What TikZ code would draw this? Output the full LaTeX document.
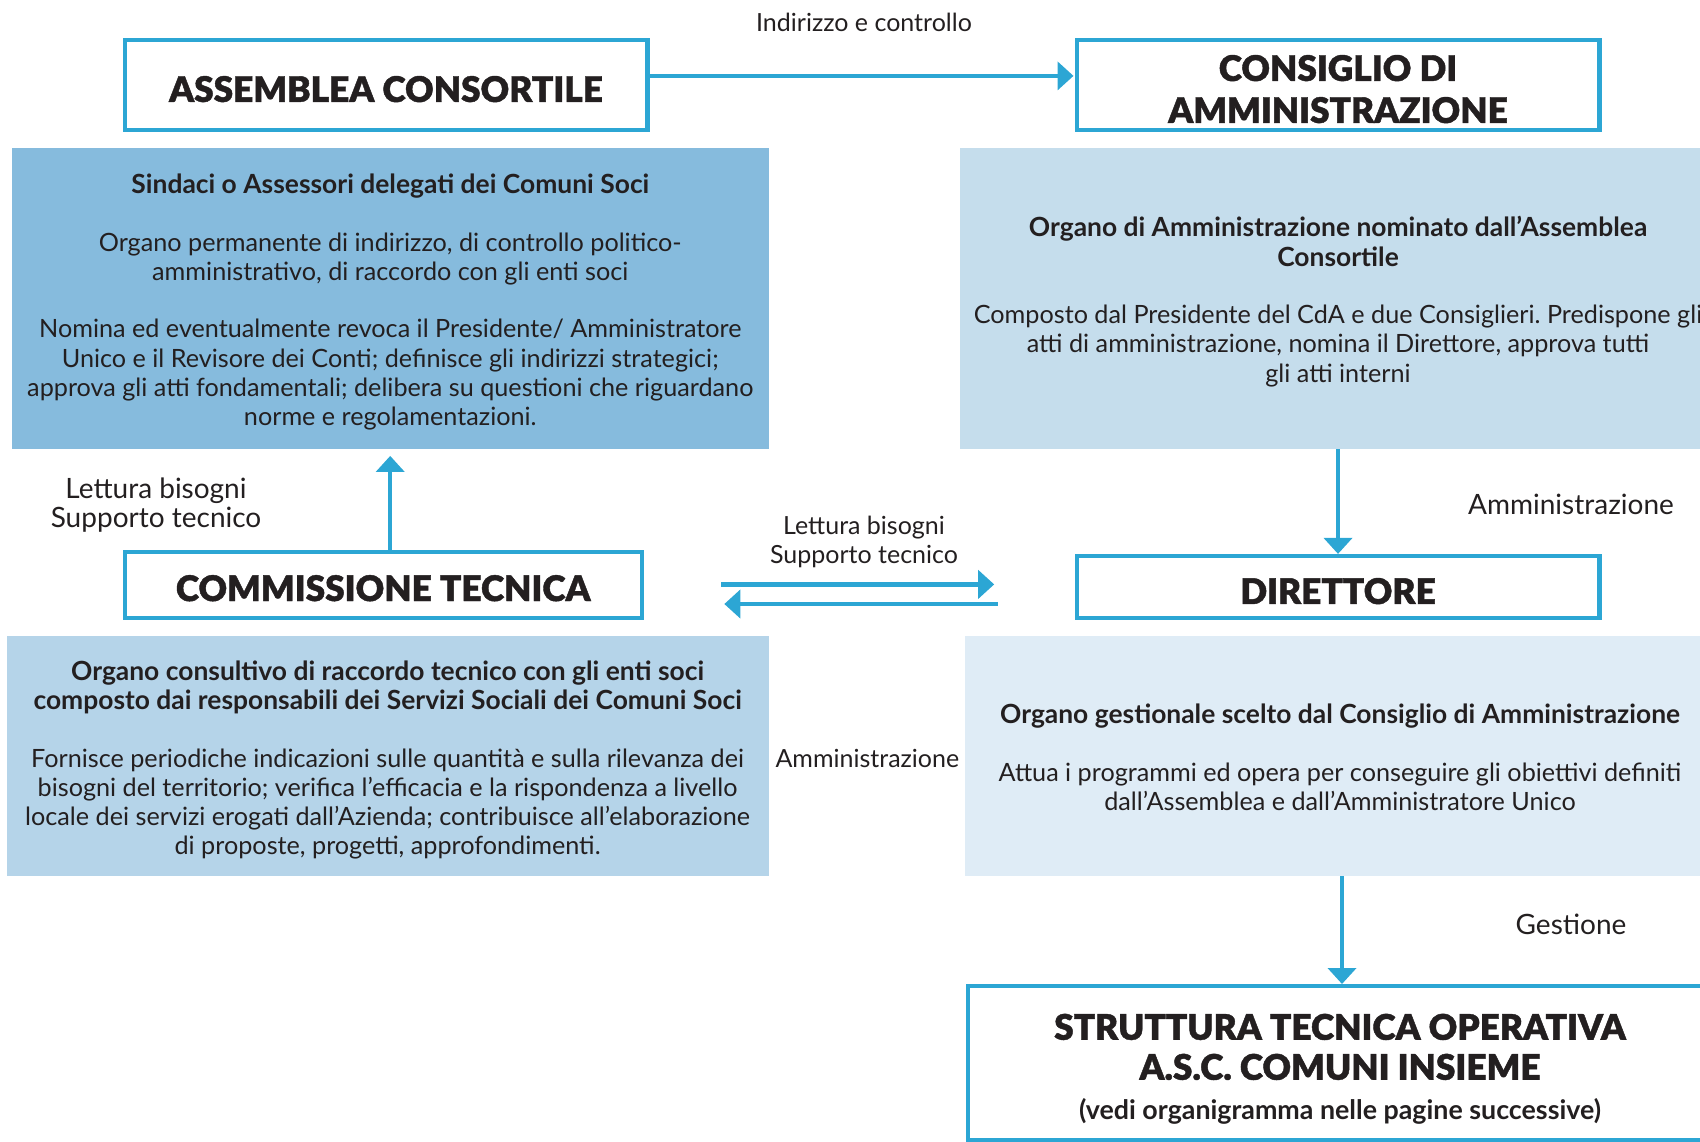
\documentclass[tikz,border=0pt]{standalone}
\usepackage{fontspec}
\setmainfont{Lato}
\newfontfamily\heavyfont{Lato Black}[FakeBold=1.2]
\usetikzlibrary{arrows.meta,calc}
\frenchspacing
\definecolor{cblue}{RGB}{44,166,212}
\definecolor{fillA}{RGB}{134,187,221}
\definecolor{fillB}{RGB}{197,221,236}
\definecolor{fillC}{RGB}{181,212,233}
\definecolor{fillD}{RGB}{223,236,246}
\definecolor{ink}{RGB}{35,31,32}
\newcommand{\hd}[1]{{\bfseries\fontsize{13.2}{14.65}\selectfont #1}}
\tikzset{
  titlebox/.style={draw=cblue, line width=2.2pt, fill=white, inner sep=0pt},
  titletext/.style={align=center, text=ink, inner sep=0pt,
    font=\heavyfont\fontsize{17.6}{21}\selectfont},
  descbox/.style={inner sep=0pt},
  desctext/.style={align=center, text=ink, inner sep=0pt,
    font=\fontsize{12.6}{14.65}\selectfont},
  arr/.style={draw=cblue, line width=2.2pt, -{Triangle[width=14pt,length=8pt]}},
  lblbig/.style={text=ink, align=center, inner sep=0pt, font=\fontsize{14}{14.65}\selectfont},
  lblsmall/.style={text=ink, align=center, inner sep=0pt, font=\fontsize{12.5}{14.65}\selectfont},
}
\begin{document}
\begin{tikzpicture}[x=1pt,y=-1pt]
\useasboundingbox (0,0) rectangle (850,570.5);
% description boxes
\node[descbox, fill=fillA, minimum width=378.4pt, minimum height=150.7pt] (sind) at (195.15,149.1) {};
\node[desctext] (sindT) at ([yshift=-2pt]sind.center)
 {\hd{Sindaci o Assessori delegati dei Comuni Soci}\\[14pt]
  Organo permanente di indirizzo, di controllo politico-\\
  amministrativo, di raccordo con gli enti soci\\[14pt]
  Nomina ed eventualmente revoca il Presidente/ Amministratore\\
  Unico e il Revisore dei Conti; definisce gli indirizzi strategici;\\
  approva gli atti fondamentali; delibera su questioni che riguardano\\
  norme e regolamentazioni.};
\node[descbox, fill=fillB, minimum width=378.4pt, minimum height=150.7pt] (cdesc) at (669,149.1) {};
\node[desctext] (cdescT) at ([yshift=-1.7pt]cdesc.center)
 {\hd{Organo di Amministrazione nominato dall’Assemblea}\\
  \hd{Consortile}\\[14pt]
  Composto dal Presidente del CdA e due Consiglieri. Predispone gli\\
  atti di amministrazione, nomina il Direttore, approva tutti\\
  gli atti interni};
\node[descbox, fill=fillC, minimum width=381.1pt, minimum height=119.8pt] (cmdesc) at (193.8,378.1) {};
\node[desctext] (cmdescT) at ([yshift=-2pt]cmdesc.center)
 {\hd{Organo consultivo di raccordo tecnico con gli enti soci}\\
  \hd{composto dai responsabili dei Servizi Sociali dei Comuni Soci}\\[14pt]
  Fornisce periodiche indicazioni sulle quantità e sulla rilevanza dei\\
  bisogni del territorio; verifica l’efficacia e la rispondenza a livello\\
  locale dei servizi erogati dall’Azienda; contribuisce all’elaborazione\\
  di proposte, progetti, approfondimenti.};
\node[descbox, fill=fillD, minimum width=375pt, minimum height=119.8pt] (ddesc) at (670,378.1) {};
\node[desctext] (ddescT) at ([yshift=-0.6pt]ddesc.center)
 {\hd{Organo gestionale scelto dal Consiglio di Amministrazione}\\[14pt]
  Attua i programmi ed opera per conseguire gli obiettivi definiti\\
  dall’Assemblea e dall’Amministratore Unico};
% title boxes
\node[titlebox, minimum width=261.3pt, minimum height=45pt] (ass) at (193,42.55) {};
\node[titletext] (assT) at ([yshift=-2pt]ass.center) {ASSEMBLEA CONSORTILE};
\node[titlebox, minimum width=261.3pt, minimum height=45pt] (cons) at (669,42.55) {};
\node[titletext] (consT) at ([yshift=-2pt]cons.center) {CONSIGLIO DI\\AMMINISTRAZIONE};
\node[titlebox, minimum width=258.5pt, minimum height=33pt] (comm) at (191.6,292.5) {};
\node[titletext] (commT) at ([yshift=-1.6pt]comm.center) {COMMISSIONE TECNICA};
\node[titlebox, minimum width=261.3pt, minimum height=31pt] (dir) at (669,293.55) {};
\node[titletext] (dirT) at ([yshift=-2pt]dir.center) {DIRETTORE};
\node[titlebox, minimum width=372pt, minimum height=77pt] (strut) at (670,531.6) {};
\node[titletext] (strutT) at ([yshift=-3pt]strut.center)
 {STRUTTURA TECNICA OPERATIVA\\[-1pt]A.S.C. COMUNI INSIEME\\[-1pt]
  {\normalfont\bfseries\fontsize{13.4}{14}\selectfont (vedi organigramma nelle pagine successive)}};
% labels
\node[lblsmall] (l1) at (432,11.4) {Indirizzo e controllo};
\node[lblbig] (l2) at (78,252.4) {Lettura bisogni\\Supporto tecnico};
\node[lblsmall] (l3) at (432,270.8) {Lettura bisogni\\Supporto tecnico};
\node[lblbig] (l4) at (785.5,252.1) {Amministrazione};
\node[lblsmall] (l5) at (433.7,379) {Amministrazione};
\node[lblbig] (l6) at (785.5,462.4) {Gestione};
% connectors
\draw[arr, shorten >=0.5pt] ([yshift=4.6pt]ass.east) -- ([yshift=4.6pt]cons.west);
\draw[arr, shorten >=3.3pt] ([xshift=3.5pt]comm.north) -- ([xshift=3.5pt]comm.north |- sind.south);
\draw[arr] (cdesc.south) -- (dir.north);
\draw[arr] ([xshift=1pt]ddesc.south) -- ([xshift=1pt]strut.north);
\coordinate (ra) at (360.5,292.2);
\coordinate (rb) at (497.1,292.2);
\coordinate (la) at (498.75,302);
\coordinate (lb) at (362.15,302);
\draw[arr] (ra) -- (rb);
\draw[arr] (la) -- (lb);
\end{tikzpicture}
\end{document}
